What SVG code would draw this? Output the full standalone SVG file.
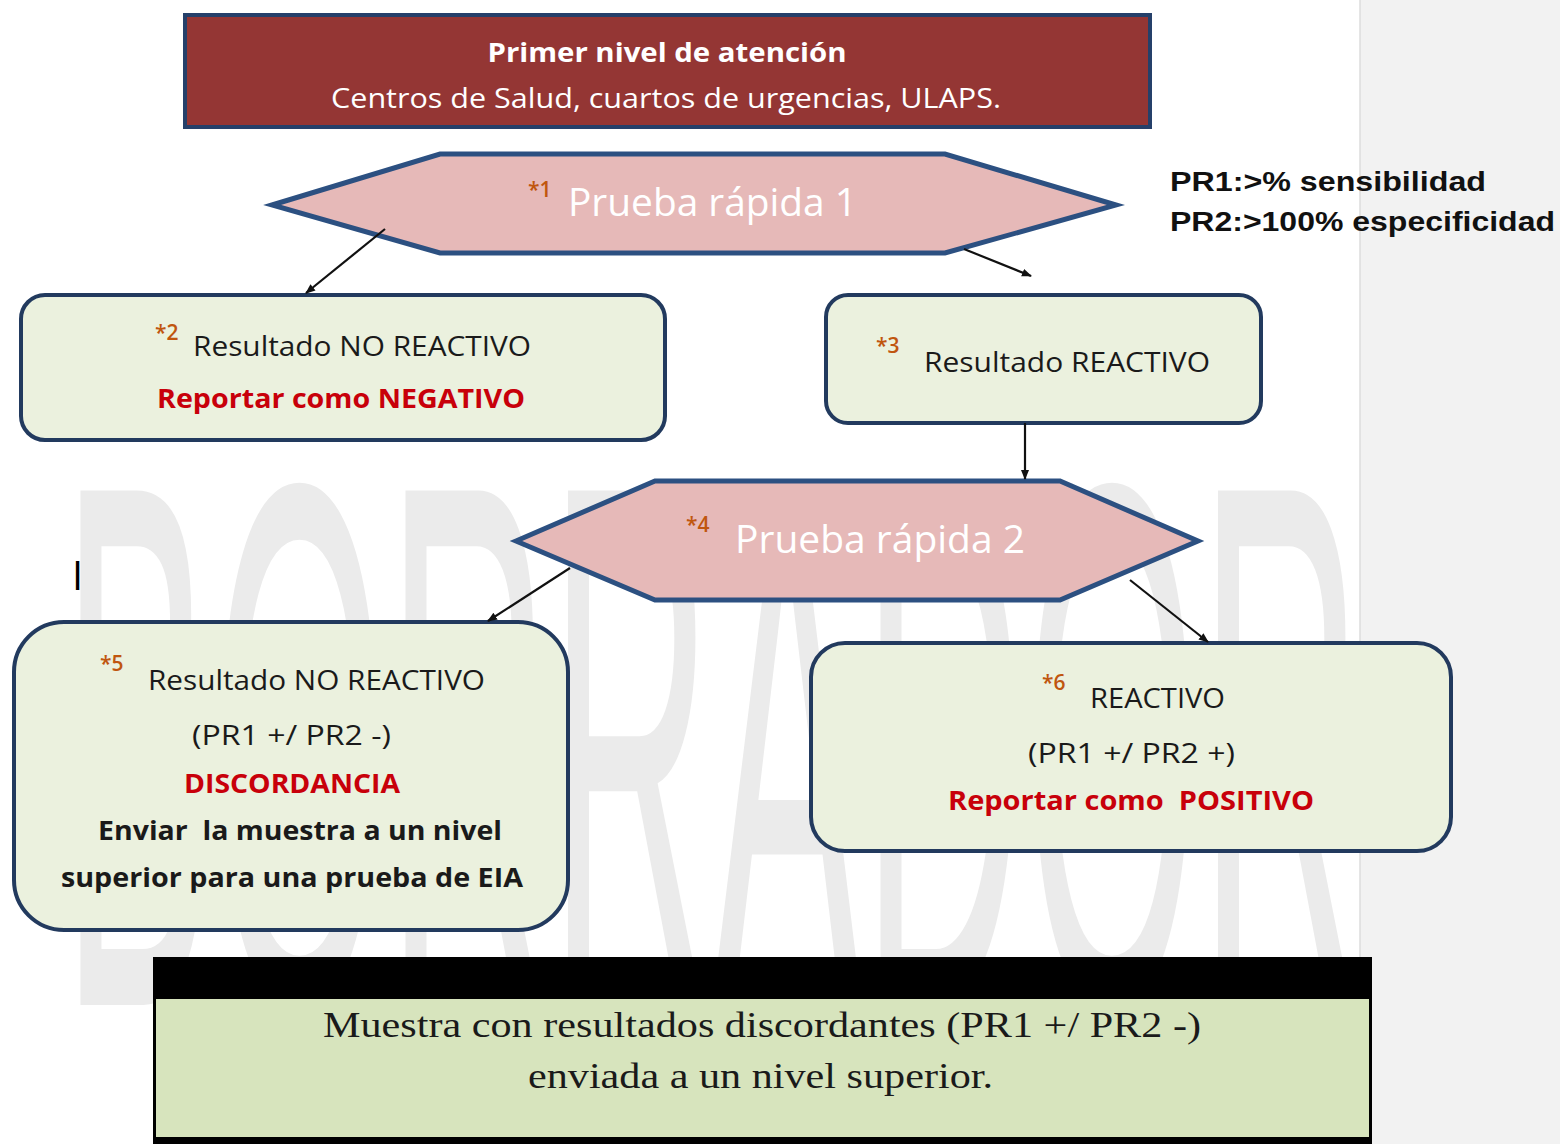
<svg xmlns="http://www.w3.org/2000/svg" width="1560" height="1144" viewBox="0 0 1560 1144">
<style>
.t{font-family:"Open Sans","Liberation Sans",sans-serif;white-space:pre}
.b{font-weight:bold}
.dk{fill:#1a1a1a}
.red{fill:#c8000a}
.sup{fill:#c0560f;font-size:21px;font-weight:600}
.box{fill:#ebf1de;stroke:#223a5e;stroke-width:4}
.hex{fill:#e6b9b8;stroke:#2c5081;stroke-width:5;stroke-linejoin:miter}
.hx{fill:#ffffff;font-size:38px}
.bt{font-size:27px}
.conn line{stroke:#111;stroke-width:2.2}
.serif{font-family:"Liberation Serif","DejaVu Serif",serif;font-size:35px;fill:#1a1a1a}
</style>
<defs>
<marker id="arr" viewBox="0 0 10 10" refX="9" refY="5" markerWidth="10" markerHeight="10" orient="auto" markerUnits="userSpaceOnUse">
<path d="M0,1 L10,5 L0,9 Z" fill="#111"/>
</marker>
</defs>
<rect x="0" y="0" width="1560" height="1144" fill="#ffffff"/>
<rect x="1360" y="0" width="200" height="1144" fill="#f2f2f2"/>
<line x1="1360" y1="0" x2="1360" y2="1144" stroke="#dcdcdc" stroke-width="1.5"/>
<g id="watermark">
<text x="62" y="1005" font-family="Liberation Sans, sans-serif" font-size="748" fill="#ebebeb" textLength="1300" lengthAdjust="spacingAndGlyphs">BORRADOR</text>
</g>
<g id="cursor"><text x="72" y="590" class="t" font-size="40" fill="#000">I</text></g>

<g id="header">
<rect x="185" y="15" width="965" height="112" fill="#943634" stroke="#25406a" stroke-width="4"/>
<text x="667" y="62" class="t b" font-size="27" fill="#fff" text-anchor="middle" textLength="359" lengthAdjust="spacingAndGlyphs">Primer nivel de atención</text>
<text x="666" y="108" class="t" font-size="27" fill="#fff" text-anchor="middle" textLength="670" lengthAdjust="spacingAndGlyphs">Centros de Salud, cuartos de urgencias, ULAPS.</text>
</g>

<g id="pr1">
<polygon class="hex" points="272,205 440,154 945,154 1116,205 945,253 440,253"/>
<text x="528" y="197" class="t sup">*1</text>
<text x="568" y="216" class="t hx" textLength="289" lengthAdjust="spacingAndGlyphs">Prueba rápida 1</text>
</g>

<g id="note">
<text x="1170" y="191" font-family="Liberation Sans, sans-serif" font-weight="bold" font-size="27" fill="#111" textLength="316" lengthAdjust="spacingAndGlyphs">PR1:&gt;% sensibilidad</text>
<text x="1170" y="231" font-family="Liberation Sans, sans-serif" font-weight="bold" font-size="27" fill="#111" textLength="385" lengthAdjust="spacingAndGlyphs">PR2:&gt;100% especificidad</text>
</g>

<g id="n2">
<rect class="box" x="21" y="295" width="644" height="145" rx="24"/>
<text x="155" y="340" class="t sup">*2</text>
<text x="193" y="356" class="t bt dk" textLength="338" lengthAdjust="spacingAndGlyphs">Resultado NO REACTIVO</text>
<text x="157" y="408" class="t bt b red" textLength="368" lengthAdjust="spacingAndGlyphs">Reportar como NEGATIVO</text>
</g>

<g id="n3">
<rect class="box" x="826" y="295" width="435" height="128" rx="22"/>
<text x="876" y="353" class="t sup">*3</text>
<text x="924" y="372" class="t bt dk" textLength="286" lengthAdjust="spacingAndGlyphs">Resultado REACTIVO</text>
</g>

<g id="pr2">
<polygon class="hex" points="516,541 655,481 1060,481 1198,541 1060,600 655,600"/>
<text x="686" y="532" class="t sup">*4</text>
<text x="735" y="553" class="t hx" textLength="290" lengthAdjust="spacingAndGlyphs">Prueba rápida 2</text>
</g>

<g id="n5">
<rect class="box" x="14" y="622" width="554" height="308" rx="50"/>
<text x="100" y="671" class="t sup">*5</text>
<text x="148" y="690" class="t bt dk" textLength="337" lengthAdjust="spacingAndGlyphs">Resultado NO REACTIVO</text>
<text x="192" y="745" class="t bt dk" textLength="199" lengthAdjust="spacingAndGlyphs">(PR1 +/ PR2 -)</text>
<text x="184" y="793" class="t bt b red" textLength="216" lengthAdjust="spacingAndGlyphs">DISCORDANCIA</text>
<text x="98" y="840" class="t bt b dk" textLength="404" lengthAdjust="spacingAndGlyphs">Enviar  la muestra a un nivel</text>
<text x="61" y="887" class="t bt b dk" textLength="462" lengthAdjust="spacingAndGlyphs">superior para una prueba de EIA</text>
</g>

<g id="n6">
<rect class="box" x="811" y="643" width="640" height="208" rx="34"/>
<text x="1042" y="690" class="t sup">*6</text>
<text x="1090" y="708" class="t bt dk" textLength="135" lengthAdjust="spacingAndGlyphs">REACTIVO</text>
<text x="1028" y="763" class="t bt dk" textLength="207" lengthAdjust="spacingAndGlyphs">(PR1 +/ PR2 +)</text>
<text x="948" y="810" class="t bt b red" textLength="366" lengthAdjust="spacingAndGlyphs">Reportar como  POSITIVO</text>
</g>

<g id="bottom">
<rect x="153" y="957" width="1219" height="187" fill="#000"/>
<rect x="156" y="999" width="1213" height="138" fill="#d7e4bd"/>
<text x="323" y="1037" class="serif" textLength="878" lengthAdjust="spacingAndGlyphs">Muestra con resultados discordantes (PR1 +/ PR2 -)</text>
<text x="528" y="1088" class="serif" textLength="465" lengthAdjust="spacingAndGlyphs">enviada a un nivel superior.</text>
</g>

<g id="connectors" class="conn">
<line x1="385" y1="229" x2="306" y2="293" marker-end="url(#arr)"/>
<line x1="964" y1="249" x2="1031" y2="276" marker-end="url(#arr)"/>
<line x1="1025" y1="423" x2="1025" y2="479" marker-end="url(#arr)"/>
<line x1="570" y1="568" x2="488" y2="621" marker-end="url(#arr)"/>
<line x1="1130" y1="580" x2="1208" y2="642" marker-end="url(#arr)"/>
</g>
</svg>
